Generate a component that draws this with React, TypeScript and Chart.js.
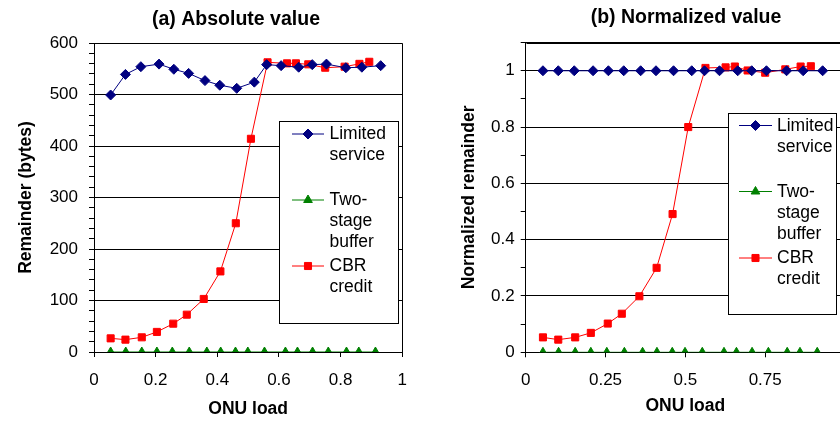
import React, { useEffect, useRef } from 'react';
import { Chart, registerables } from 'chart.js';

Chart.register(...registerables);

const FONT = "'Liberation Sans', Arial, Helvetica, sans-serif";

// ---- data ----
const seriesNames = ['Limited service', 'Two-stage buffer', 'CBR credit'];
const legendLines = [['Limited', 'service'], ['Two-', 'stage', 'buffer'], ['CBR', 'credit']];

const limitedLoad = [0.054, 0.102, 0.152, 0.211, 0.259, 0.307, 0.36, 0.408, 0.463, 0.52, 0.56, 0.607, 0.664, 0.708, 0.754, 0.817, 0.869, 0.93];
const limitedAbs = [499, 539, 554, 559, 549, 541, 527, 518, 512, 524, 558, 556, 553, 558, 559, 552, 553, 556];
const limitedNorm = [1, 1, 1, 1, 1, 1, 1, 1, 1, 1, 1, 1, 1, 1, 1, 1, 1, 1];

const twoStageLoad = [0.054, 0.103, 0.155, 0.204, 0.254, 0.309, 0.366, 0.411, 0.459, 0.499, 0.553, 0.621, 0.66, 0.709, 0.76, 0.819, 0.859, 0.913];
const twoStageAbs = [0, 0, 0, 0, 0, 0, 0, 0, 0, 0, 0, 0, 0, 0, 0, 0, 0, 0];
const twoStageNorm = [0, 0, 0, 0, 0, 0, 0, 0, 0, 0, 0, 0, 0, 0, 0, 0, 0, 0];

const cbrLoad = [0.054, 0.102, 0.155, 0.204, 0.257, 0.301, 0.356, 0.41, 0.46, 0.509, 0.563, 0.626, 0.655, 0.695, 0.75, 0.813, 0.861, 0.893];
const cbrAbs = [26.5, 24, 28.5, 39, 55, 72.5, 103, 156.5, 250, 414, 562.5, 560.5, 560.5, 558.6, 552, 554, 559.5, 563.5];
const cbrNorm = [0.053, 0.045, 0.053, 0.069, 0.102, 0.137, 0.199, 0.3, 0.491, 0.8, 1.01, 1.012, 1.015, 1.001, 0.993, 1.005, 1.015, 1.016];

const xTicksA = [0, 0.2, 0.4, 0.6, 0.8, 1];
const xTicksB = [0, 0.25, 0.5, 0.75];

const titleA = '(a) Absolute value';
const titleB = '(b) Normalized value';
const yTitleA = 'Remainder (bytes)';
const yTitleB = 'Normalized remainder';
const xTitle = 'ONU load';

const COLORS = ['#000080', '#008000', '#FF0000'];
const STYLES = ['rectRot', 'triangle', 'rect'];
const RADII = [5, 5, 5];

function pts(xs: number[], ys: number[]) {
  return xs.map((x, i) => ({ x, y: ys[i] }));
}

function drawMarker(ctx: CanvasRenderingContext2D, style: string, x: number, y: number, r: number) {
  ctx.beginPath();
  if (style === 'rectRot') {
    ctx.moveTo(x, y - r);
    ctx.lineTo(x + r, y);
    ctx.lineTo(x, y + r);
    ctx.lineTo(x - r, y);
  } else if (style === 'triangle') {
    const h = r * 0.866;
    ctx.moveTo(x, y - r);
    ctx.lineTo(x + h, y + r / 2);
    ctx.lineTo(x - h, y + r / 2);
  } else {
    const s = r * Math.SQRT1_2;
    ctx.rect(x - s, y - s, 2 * s, 2 * s);
  }
  ctx.closePath();
  ctx.fill();
  ctx.stroke();
}

const decorPlugin = {
  id: 'decor',
  afterDraw(chart: any, _args: any, opts: any) {
    const ctx: CanvasRenderingContext2D = chart.ctx;
    const a = chart.chartArea;
    ctx.save();
    ctx.strokeStyle = '#000';
    ctx.lineWidth = 1;
    const l = Math.round(a.left) + 0.5;
    const t = Math.round(a.top) + 0.5;
    const r = Math.round(a.right) + 0.5;
    const b = Math.round(a.bottom) + 0.5;
    ctx.beginPath();
    ctx.moveTo(l, t);
    ctx.lineTo(r, t);
    ctx.lineTo(r, b);
    ctx.stroke();

    // chart title
    ctx.fillStyle = '#000';
    ctx.font = `bold ${opts.titleSize}px ${FONT}`;
    ctx.textAlign = 'center';
    ctx.textBaseline = 'middle';
    ctx.fillText(opts.title, opts.titleX, opts.titleY);

    // legend
    const L = opts.legend;
    ctx.fillStyle = '#fff';
    ctx.fillRect(L.x, L.y, L.w, L.h);
    ctx.strokeStyle = '#000';
    ctx.strokeRect(L.x + 0.5, L.y + 0.5, L.w, L.h);
    ctx.font = `${L.fontSize}px ${FONT}`;
    ctx.textAlign = 'left';
    ctx.textBaseline = 'middle';
    legendLines.forEach((lines, i) => {
      const y = L.entryY[i];
      ctx.strokeStyle = COLORS[i];
      ctx.fillStyle = COLORS[i];
      ctx.lineWidth = 1;
      ctx.beginPath();
      ctx.moveTo(L.lineX1, y + 0.5);
      ctx.lineTo(L.lineX2, y + 0.5);
      ctx.stroke();
      drawMarker(ctx, STYLES[i], (L.lineX1 + L.lineX2) / 2, y + 0.5, RADII[i]);
      ctx.fillStyle = '#000';
      lines.forEach((txt, j) => {
        ctx.fillText(txt, L.textX, y + j * L.lineGap + 1);
      });
    });
    ctx.restore();
  },
};

function makeDatasets(ys: number[][]) {
  const loads = [limitedLoad, twoStageLoad, cbrLoad];
  return seriesNames.map((name, i) => ({
    label: name,
    data: pts(loads[i], ys[i]),
    borderColor: COLORS[i],
    backgroundColor: COLORS[i],
    borderWidth: 1,
    pointStyle: STYLES[i],
    pointRadius: RADII[i],
    pointBorderWidth: 1,
    pointBackgroundColor: COLORS[i],
    pointBorderColor: COLORS[i],
    tension: 0,
    fill: false,
  }));
}

function buildConfig(panel: 'a' | 'b'): any {
  const isA = panel === 'a';
  const ys = isA ? [limitedAbs, twoStageAbs, cbrAbs] : [limitedNorm, twoStageNorm, cbrNorm];
  const xLabels = isA ? xTicksA : xTicksB;
  const yScaleWidth = isA ? 94 : 105.7;
  const xScaleHeight = isA ? 71 : 70.7;
  return {
    type: 'line',
    data: { datasets: makeDatasets(ys) },
    plugins: [decorPlugin],
    options: {
      animation: false,
      responsive: false,
      maintainAspectRatio: false,
      layout: { padding: { left: 0, right: isA ? 12 : 15, top: isA ? 43 : 42.6, bottom: 0 } },
      plugins: {
        legend: { display: false },
        title: { display: false },
        tooltip: { enabled: false },
        decor: isA
          ? {
              title: titleA, titleX: 236, titleY: 20, titleSize: 19.5,
              legend: { x: 279, y: 121, w: 119, h: 202, lineX1: 292, lineX2: 324, textX: 329.5, entryY: [133.5, 199.5, 265.5], lineGap: 21, fontSize: 17.5 },
            }
          : {
              title: titleB, titleX: 266, titleY: 18, titleSize: 19.5,
              legend: { x: 308, y: 113, w: 108, h: 201, lineX1: 319, lineX2: 352, textX: 357, entryY: [125, 191, 257.5], lineGap: 21, fontSize: 17.5 },
            },
      },
      scales: {
        x: {
          type: 'linear',
          min: 0,
          max: 1,
          afterFit: (s: any) => { s.height = xScaleHeight; },
          ticks: {
            stepSize: isA ? 0.2 : 0.25,
            padding: 13,
            color: '#000',
            font: { size: 17, family: FONT },
            autoSkip: false,
            maxRotation: 0,
            callback: (v: number) => {
              const hit = xLabels.find((t) => Math.abs(t - v) < 1e-6);
              return hit === undefined ? '' : String(hit);
            },
          },
          grid: { drawOnChartArea: false, drawTicks: true, tickLength: 5, tickColor: '#000', color: '#000' },
          border: { display: true, color: '#000', width: 1 },
          title: { display: true, text: xTitle, color: '#000', font: { size: 17.5, weight: 'bold', family: FONT }, padding: { top: 0, bottom: isA ? 3 : 6.5 } },
        },
        y: {
          type: 'linear',
          min: 0,
          max: isA ? 600 : 1.1,
          afterFit: (s: any) => { s.width = yScaleWidth; },
          ticks: {
            stepSize: isA ? 20 : 0.1,
            maxTicksLimit: 100,
            autoSkip: false,
            padding: isA ? 11 : 6,
            color: '#000',
            font: { size: 17, family: FONT },
            callback: (v: number) => {
              if (isA) return Math.round(v) % 100 === 0 ? String(Math.round(v)) : '';
              const k = Math.round(v * 10);
              return k % 2 === 0 && k <= 10 ? String(k / 10) : '';
            },
          },
          grid: {
            drawTicks: true,
            tickLength: 5,
            tickColor: '#000',
            lineWidth: 1,
            color: (c: any) => {
              const v = c.tick ? c.tick.value : 0;
              if (isA) return Math.round(v) % 100 === 0 ? '#000' : 'rgba(0,0,0,0)';
              const k = Math.round(v * 10);
              return k % 2 === 0 || k === 11 ? '#000' : 'rgba(0,0,0,0)';
            },
          },
          border: { display: true, color: '#000', width: 1 },
          title: { display: true, text: isA ? yTitleA : yTitleB, color: '#000', font: { size: 17.5, weight: 'bold', family: FONT }, padding: { top: isA ? 15.5 : 38.5, bottom: 0 } },
        },
      },
    },
  };
}

function Panel({ panel, left, width }: { panel: 'a' | 'b'; left: number; width: number }) {
  const ref = useRef<HTMLCanvasElement | null>(null);
  useEffect(() => {
    if (!ref.current) return;
    const chart = new Chart(ref.current, buildConfig(panel));
    return () => chart.destroy();
  }, [panel]);
  return (
    <canvas
      ref={ref}
      width={width}
      height={423}
      style={{ position: 'absolute', left, top: 0, width, height: 423, display: 'block' }}
    />
  );
}

export default function App() {
  useEffect(() => {
    Chart.defaults.font.family = FONT;
    Chart.defaults.color = '#000';
  }, []);
  return (
    <div style={{ position: 'fixed', left: 0, top: 0, width: 840, height: 423, overflow: 'hidden', background: '#fff' }}>
      <Panel panel="a" left={0} width={420} />
      <Panel panel="b" left={420} width={440} />
    </div>
  );
}
